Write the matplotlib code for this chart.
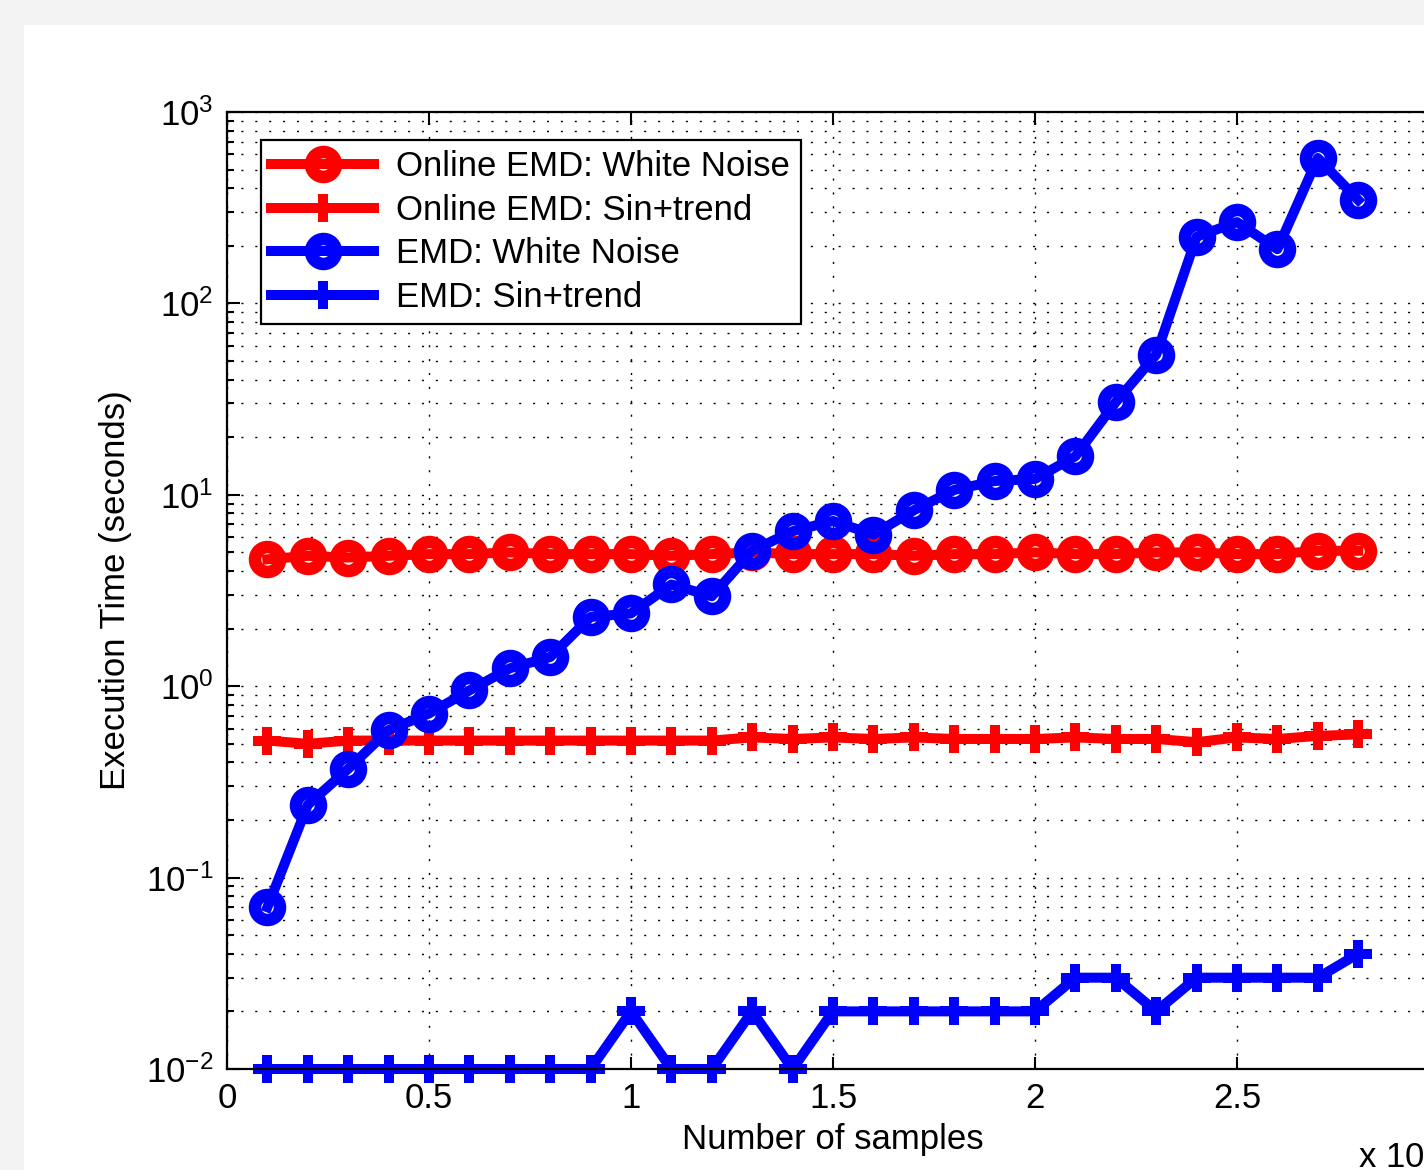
import numpy as np
import matplotlib
matplotlib.use('Agg')
from matplotlib import pyplot as plt
from matplotlib.ticker import LogLocator, NullFormatter
from matplotlib.patches import Rectangle

plt.rcParams['font.family'] = ['Liberation Sans', 'DejaVu Sans']
plt.rcParams['font.size'] = 25

########## data ###################
samples = np.arange(1000, 28001, 1000)  # number of samples

online_white = [4.6, 4.8, 4.7, 4.8, 4.9, 4.9, 5.0, 4.9, 4.9, 4.9, 4.8, 4.9,
                5.0, 4.9, 4.9, 4.9, 4.8, 4.9, 4.9, 5.0, 4.9, 4.9, 5.0, 5.0,
                4.9, 4.9, 5.1, 5.1]
online_sin = [0.52, 0.50, 0.52, 0.52, 0.52, 0.52, 0.52, 0.52, 0.52, 0.52, 0.52, 0.52,
              0.54, 0.53, 0.54, 0.53, 0.54, 0.53, 0.53, 0.53, 0.54, 0.53, 0.53, 0.51,
              0.54, 0.53, 0.55, 0.56]
emd_white = [0.070, 0.24, 0.37, 0.59, 0.72, 0.95, 1.24, 1.42, 2.3, 2.4, 3.4, 2.95,
             5.1, 6.45, 7.3, 6.2, 8.3, 10.6, 11.8, 12.1, 15.9, 30.5, 54, 223,
             266, 192, 575, 347]
emd_sin = [0.01, 0.01, 0.01, 0.01, 0.01, 0.01, 0.01, 0.01, 0.01, 0.02, 0.01, 0.01,
           0.02, 0.01, 0.02, 0.02, 0.02, 0.02, 0.02, 0.02, 0.03, 0.03, 0.02, 0.03,
           0.03, 0.03, 0.03, 0.04]

labels = ['Online EMD: White Noise', 'Online EMD: Sin+trend',
          'EMD: White Noise', 'EMD: Sin+trend']
xtick_labels = ['0', '0.5', '1', '1.5', '2', '2.5', '']  # '3' falls off the cropped image
####################################

W, H = 1424, 1170
fig = plt.figure(figsize=(W/100, H/100), dpi=100, facecolor='#f3f3f3')
# white plotting area (gray strip on top / left like the screenshot)
fig.patches.append(Rectangle((24/W, 0), 1, (H-25)/H, transform=fig.transFigure,
                             facecolor='white', edgecolor='none', zorder=-10))

# axes runs past the right edge of the image (cropped screenshot)
ax = fig.add_axes([227/W, 1-1069/H, 1212/W, 957/H])
ax.set_facecolor('white')

x = samples / 1e4
lw = 7.2
circ = dict(lw=lw, ms=18, mew=9, mfc='none')
plus = dict(lw=lw, ms=20, mew=7.2)
ax.plot(x, online_white, '-o', color='red', label=labels[0], **circ)
ax.plot(x, online_sin, '-+', color='red', label=labels[1], **plus)
ax.plot(x, emd_white, '-o', color='blue', label=labels[2], **circ)
ax.plot(x, emd_sin, '-+', color='blue', label=labels[3], clip_on=False, **plus)

ax.set_yscale('log')
ax.set_ylim(1e-2, 1e3)
ax.set_xlim(0, 3)
ax.set_xticks([0, 0.5, 1, 1.5, 2, 2.5, 3])
ax.set_xticklabels(xtick_labels)
ax.yaxis.set_minor_locator(LogLocator(base=10, subs=np.arange(2, 10), numticks=20))
ax.yaxis.set_minor_formatter(NullFormatter())

# matlab style dotted grid
dot = (0, (1.5, 8.5))
ax.grid(True, which='major', axis='both', color='black', lw=1.0, linestyle=dot)
ax.grid(True, which='minor', axis='y', color='black', lw=1.0, linestyle=dot)
ax.set_axisbelow(True)

ax.tick_params(which='both', direction='in', top=True, right=True, width=1.5)
ax.tick_params(which='major', length=9)
ax.tick_params(which='minor', length=5)
ax.tick_params(axis='x', pad=9)
ax.tick_params(axis='y', pad=10)
for s in ax.spines.values():
    s.set_linewidth(1.6)

ax.set_xlabel('Number of samples')
ax.xaxis.set_label_coords(0.5, -0.056)
ax.set_ylabel('Execution Time (seconds)')
ax.yaxis.set_label_coords(-0.078, 0.5)

fig.text(1358/W, 2/H, r'x 10$^{4}$', ha='left', va='baseline')

leg = ax.legend(loc='upper left', bbox_to_anchor=(0.028, 0.9707), borderaxespad=0,
                handlelength=2.95, labelspacing=0.3, handletextpad=0.65,
                borderpad=0.3, fancybox=False, framealpha=1, edgecolor='black')
leg.get_frame().set_linewidth(1.6)

fig.savefig('out.png', dpi=100, facecolor=fig.get_facecolor())
